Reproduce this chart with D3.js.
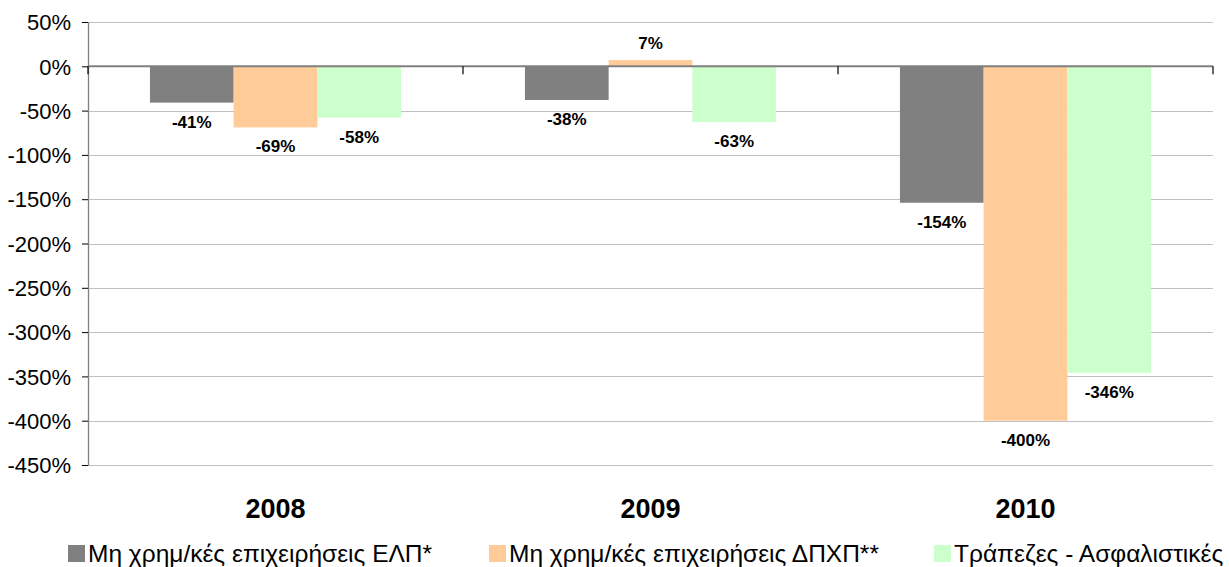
<!DOCTYPE html>
<html><head><meta charset="utf-8">
<script src="https://cdn.jsdelivr.net/npm/d3@7"></script>
<style>
body{margin:0;background:#fff;}
svg{display:block;font-family:Arial,"Liberation Sans",sans-serif;}
</style></head>
<body>
<svg id="c" width="1229" height="567"></svg>
<script>
const categories = ["2008","2009","2010"];
const seriesNames = ["Μη χρημ/κές επιχειρήσεις ΕΛΠ*","Μη χρημ/κές επιχειρήσεις ΔΠΧΠ**","Τράπεζες - Ασφαλιστικές"];
const seriesColors = ["#808080","#ffcc99","#ccffcc"];
const elp = [-41,-38,-154];
const dpxp = [-69,7,-400];
const banks = [-58,-63,-346];
const yTicks = [50,0,-50,-100,-150,-200,-250,-300,-350,-400,-450];

(function(){
const seriesValues = [elp,dpxp,banks];
const svg = d3.select("#c");
const mLeft = 88, mRight = 1213, mTop = 22, mBottom = 465;

const x = d3.scaleBand().domain(categories).range([mLeft,mRight]);
const xs = d3.scaleBand().domain(d3.range(3)).range([0,x.bandwidth()]).paddingOuter(0.74).paddingInner(0);
const y = d3.scaleLinear().domain([-450,50]).range([mBottom,mTop]);

// gridlines
svg.append("g").selectAll("line").data(yTicks).join("line")
  .attr("x1",mLeft).attr("x2",mRight)
  .attr("y1",d=>Math.round(y(d))+0.5).attr("y2",d=>Math.round(y(d))+0.5)
  .attr("stroke","#c0c0c0").attr("stroke-width",1);

// y axis
const yAxis = d3.axisLeft(y).tickValues(yTicks).tickFormat(d=>d+"%").tickSize(6).tickSizeOuter(0);
const gy = svg.append("g").attr("transform",`translate(${mLeft},0)`).call(yAxis);
gy.select(".domain").attr("stroke","#808080").attr("stroke-width",1.3);
gy.selectAll(".tick line").attr("stroke","#000");
gy.selectAll(".tick text").attr("font-size","22px").attr("fill","#000").attr("x",-17).attr("dy","0.35em")
  .attr("font-family","Arial,'Liberation Sans',sans-serif");

// bars
const data = [];
categories.forEach((c,i)=>seriesValues.forEach((s,j)=>data.push({c,j,v:s[i]})));
svg.append("g").selectAll("rect").data(data).join("rect")
  .attr("x",d=>x(d.c)+xs(d.j))
  .attr("width",xs.bandwidth())
  .attr("y",d=>y(Math.max(0,d.v)))
  .attr("height",d=>Math.abs(y(d.v)-y(0)))
  .attr("fill",d=>seriesColors[d.j]);

// zero line (category axis)
svg.append("line").attr("x1",mLeft).attr("x2",mRight).attr("y1",y(0)).attr("y2",y(0))
  .attr("stroke","#808080").attr("stroke-width",2);
// category boundary ticks
const bounds = categories.map(c=>x(c)).concat([mRight]);
svg.append("g").selectAll("line").data(bounds).join("line")
  .attr("x1",d=>d).attr("x2",d=>d).attr("y1",y(0)).attr("y2",y(0)+8)
  .attr("stroke","#000").attr("stroke-width",1.2);

// value labels
svg.append("g").selectAll("text").data(data).join("text")
  .attr("x",d=>x(d.c)+xs(d.j)+xs.bandwidth()/2)
  .attr("y",d=>d.v<0? y(d.v)+25 : y(d.v)-11)
  .attr("text-anchor","middle").attr("font-size","17px").attr("font-weight","bold").attr("fill","#000")
  .text(d=>d.v+"%");

// category labels
svg.append("g").selectAll("text").data(categories).join("text")
  .attr("x",d=>x(d)+x.bandwidth()/2).attr("y",518)
  .attr("text-anchor","middle").attr("font-size","27px").attr("font-weight","bold").text(d=>d);

// legend
const legX = [68,489,934];
const lg = svg.append("g").selectAll("g").data(seriesNames).join("g")
  .attr("transform",(d,i)=>`translate(${legX[i]},0)`);
lg.append("rect").attr("x",0).attr("y",545).attr("width",17).attr("height",17).attr("fill",(d,i)=>seriesColors[i]);
lg.append("text").attr("x",20).attr("y",562).attr("font-size","24.5px").attr("fill","#000").text(d=>d);
})();
</script>
</body></html>
